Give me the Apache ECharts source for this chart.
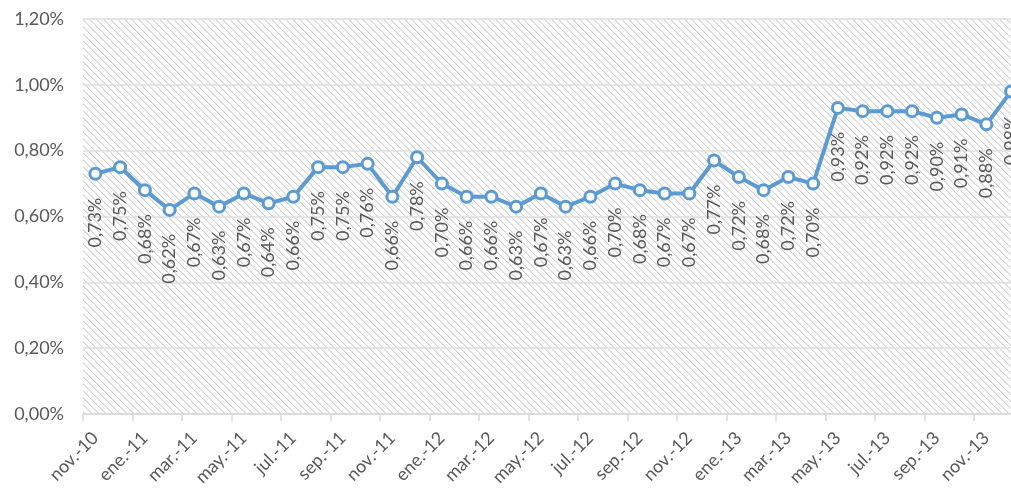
<!DOCTYPE html>
<html>
<head>
<meta charset="utf-8">
<script src="https://cdn.jsdelivr.net/npm/echarts@6/dist/echarts.min.js"></script>
<style>
  html, body { margin: 0; padding: 0; background: #ffffff; overflow: hidden; }
  /* plot runs a little past the right edge of the window */
  #chart { width: 1024px; height: 490px; }
</style>
</head>
<body>
<div id="chart"></div>
<script>
// Monthly categories, Nov 2010 – Dec 2013
const categories = [
  'nov.-10', 'dic.-10',
  'ene.-11', 'feb.-11', 'mar.-11', 'abr.-11', 'may.-11', 'jun.-11',
  'jul.-11', 'ago.-11', 'sep.-11', 'oct.-11', 'nov.-11', 'dic.-11',
  'ene.-12', 'feb.-12', 'mar.-12', 'abr.-12', 'may.-12', 'jun.-12',
  'jul.-12', 'ago.-12', 'sep.-12', 'oct.-12', 'nov.-12', 'dic.-12',
  'ene.-13', 'feb.-13', 'mar.-13', 'abr.-13', 'may.-13', 'jun.-13',
  'jul.-13', 'ago.-13', 'sep.-13', 'oct.-13', 'nov.-13', 'dic.-13'
];

// Rate in percent
const rateValues = [
  0.73, 0.75,
  0.68, 0.62, 0.67, 0.63, 0.67, 0.64,
  0.66, 0.75, 0.75, 0.76, 0.66, 0.78,
  0.70, 0.66, 0.66, 0.63, 0.67, 0.63,
  0.66, 0.70, 0.68, 0.67, 0.67, 0.77,
  0.72, 0.68, 0.72, 0.70, 0.93, 0.92,
  0.92, 0.92, 0.90, 0.91, 0.88, 0.98
];

// Y axis range (percent)
const yMin = 0;
const yMax = 1.2;
const yStep = 0.2;

const fmtPct = v => v.toFixed(2).replace('.', ',') + '%';

// Diagonal hatch tile for the plot background
function hatchTile() {
  const size = 7;
  const c = document.createElement('canvas');
  c.width = size; c.height = size;
  const ctx = c.getContext('2d');
  ctx.fillStyle = '#ffffff';
  ctx.fillRect(0, 0, size, size);
  for (let i = 0; i < size; i++) {
    ctx.fillStyle = '#d4d4d4';
    ctx.fillRect(i, i, 1, 1);
    ctx.fillStyle = '#ebebeb';
    ctx.fillRect((i + 1) % size, i, 1, 1);
  }
  return c;
}

const textColor = '#595959';
const fontFamily = 'Lato, "Noto Sans", sans-serif';

const chart = echarts.init(document.getElementById('chart'), null, { renderer: 'canvas' });
chart.setOption({
  animation: false,
  grid: {
    left: 83,
    right: 0.5,
    top: 19,
    bottom: 76,
    show: true,
    borderWidth: 0,
    backgroundColor: { image: hatchTile(), repeat: 'repeat' }
  },
  xAxis: {
    type: 'category',
    data: categories,
    boundaryGap: true,
    axisLine: { lineStyle: { color: '#d9d9d9', width: 1.5 } },
    axisTick: { show: true, interval: 1, length: 7, lineStyle: { color: '#d9d9d9', width: 1.5 } },
    axisLabel: {
      interval: 1,
      rotate: 45,
      color: textColor,
      fontFamily: fontFamily,
      fontSize: 18,
      margin: 21
    }
  },
  yAxis: {
    type: 'value',
    min: yMin,
    max: yMax,
    interval: yStep,
    axisLine: { show: false },
    axisTick: { show: false },
    splitLine: { lineStyle: { color: '#dedede', width: 1.5 } },
    axisLabel: {
      color: textColor,
      fontFamily: fontFamily,
      fontSize: 18,
      margin: 19,
      formatter: fmtPct
    }
  },
  series: [{
    type: 'line',
    data: rateValues,
    symbol: 'circle',
    symbolSize: 11,
    showAllSymbol: true,
    lineStyle: { color: '#5b9bd5', width: 4 },
    itemStyle: { color: '#ffffff', borderColor: '#5b9bd5', borderWidth: 3 },
    label: {
      show: true,
      position: 'bottom',
      distance: 17,
      rotate: 90,
      align: 'right',
      verticalAlign: 'middle',
      color: textColor,
      fontFamily: fontFamily,
      fontSize: 18,
      formatter: p => fmtPct(p.value)
    }
  }]
});
</script>
</body>
</html>
